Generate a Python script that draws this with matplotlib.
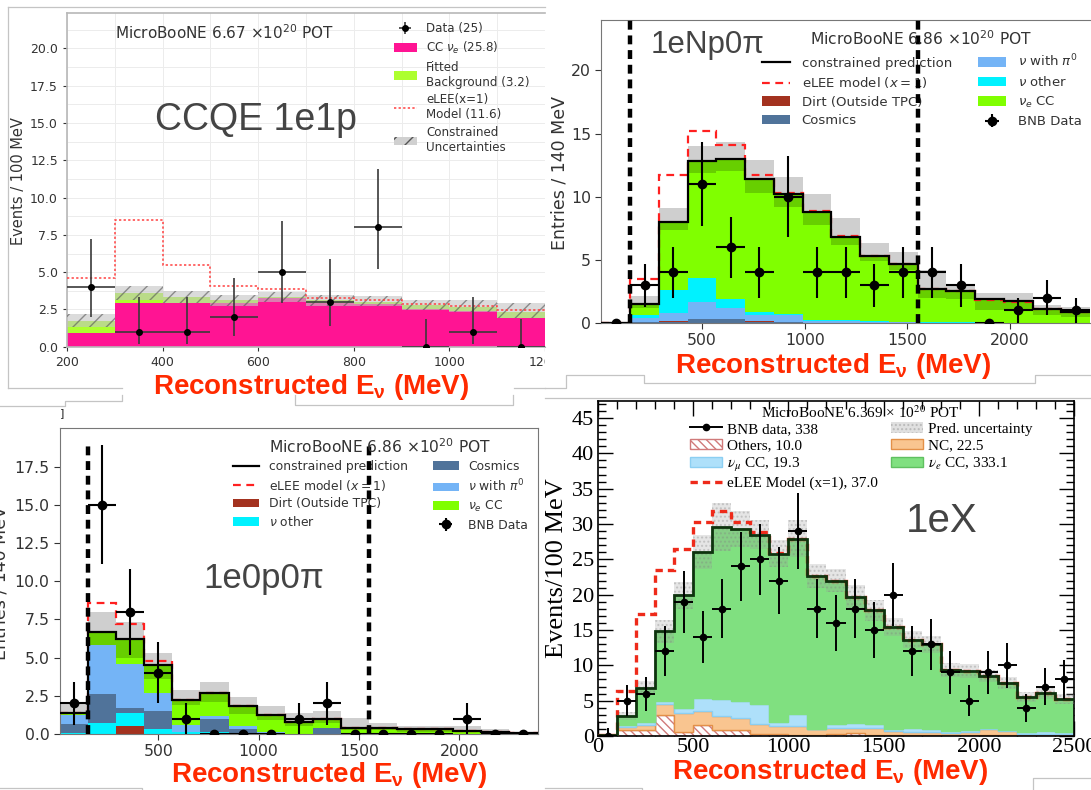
import numpy as np
import matplotlib
matplotlib.use('Agg')
import matplotlib.pyplot as plt
from matplotlib.patches import Patch, Rectangle
from matplotlib.lines import Line2D
from matplotlib.ticker import MultipleLocator
from matplotlib.font_manager import FontProperties

W, H = 1091, 790
plt.rcParams['mathtext.bf'] = 'Liberation Sans:bold'
plt.rcParams['mathtext.rm'] = 'Liberation Sans'

# ---------------- CCQE 1e1p ----------------
edges1 = np.arange(200, 1201, 100)
ccnue1 = [0.9, 2.9, 2.95, 2.95, 3.25, 2.9, 2.85, 2.55, 2.4, 1.95]
bkg1 = [0.85, 0.7, 0.35, 0.15, 0.1, 0.2, 0.15, 0.25, 0.25, 0.35]
unc_lo1 = [1.35, 3.15, 2.95, 2.75, 3.0, 2.75, 2.7, 2.45, 2.3, 1.95]
unc_hi1 = [2.2, 4.1, 3.75, 3.45, 3.7, 3.45, 3.4, 3.1, 3.15, 2.95]
elee1 = [4.6, 8.5, 5.45, 4.1, 3.9, 3.25, 3.1, 2.85, 2.75, 2.45]
data1 = [4, 1, 1, 2, 5, 3, 8, 0, 1, 0]
data1_lo = [2.0, 0.17, 0.17, 0.7, 2.9, 1.4, 5.2, 0, 0.17, 0]
data1_hi = [7.2, 3.3, 3.3, 4.6, 8.4, 5.9, 11.9, 1.85, 3.3, 1.85]

# ---------------- 1eNp0pi ----------------
edges2 = np.arange(10, 2391, 140)
cosmic2 = [0, 0.05, 0.1, 0.3, 0.3, 0.1, 0.05, 0.02, 0, 0, 0, 0, 0, 0, 0, 0, 0]
dirt2 = [0, 0, 0.02, 0.05, 0.05, 0.02, 0, 0, 0, 0, 0, 0, 0, 0, 0, 0, 0]
pi0_2 = [0, 0.35, 0.7, 1.35, 0.85, 0.55, 0.6, 0.13, 0.15, 0.1, 0.05, 0.03, 0.02, 0, 0, 0, 0]
other2 = [0, 0.25, 1.8, 1.9, 0.7, 0.2, 0.1, 0.05, 0.05, 0.05, 0.05, 0.05, 0.03, 0.02, 0.02, 0.01, 0.01]
nue2 = [0, 0.85, 5.4, 9.2, 11.1, 10.5, 9.45, 8.6, 6.65, 5.15, 4.6, 2.6, 2.45, 1.85, 1.7, 1.1, 0.9]
unc_lo2 = [0, 1.2, 7.35, 11.9, 12.0, 10.3, 9.2, 7.8, 6.2, 4.9, 4.2, 2.0, 1.9, 1.0, 1.0, 0.6, 0.5]
unc_hi2 = [0, 2.1, 9.1, 14.0, 14.3, 12.9, 11.6, 10.2, 8.3, 6.3, 5.6, 4.2, 3.0, 2.4, 2.35, 1.4, 1.3]
elee2 = [0, 3.5, 11.7, 15.2, 14.1, 11.75, 10.3, 8.85, 6.9, 5.3, 4.7, 2.7, 2.5, 1.85, 1.7, 1.1, 0.9]
data2 = [0, 3, 4, 11, 6, 4, 10, 4, 4, 3, 4, 4, 3, 0, 1, 2, 1]
err2 = [0, 1.7, 2.0, 3.3, 2.4, 2.0, 3.2, 2.0, 2.0, 1.7, 2.0, 2.0, 1.7, 0, 1.0, 1.4, 1.0]

# ---------------- 1e0p0pi ----------------
edges3 = np.arange(10, 2391, 140)
dirt3 = [0, 0, 0.5, 0, 0, 0, 0, 0, 0, 0, 0, 0, 0, 0, 0, 0, 0]
other3 = [0.05, 0.7, 0.85, 0.3, 0.15, 0.15, 0.05, 0.02, 0, 0, 0, 0, 0, 0, 0, 0, 0]
cosmic3 = [0.6, 1.9, 0.35, 1.2, 0, 0.85, 0.25, 0.05, 0, 0.4, 0, 0, 0, 0, 0, 0, 0]
pi0_3 = [0.6, 3.2, 2.9, 1.2, 0.45, 0.2, 0.2, 0.05, 0.02, 0.02, 0.02, 0, 0, 0, 0, 0, 0]
nue3 = [0.15, 0.9, 1.6, 1.8, 1.6, 1.5, 1.3, 1.13, 0.78, 0.53, 0.38, 0.4, 0.3, 0.3, 0.2, 0.1, 0.05]
unc_lo3 = [1.4, 5.8, 5.0, 3.6, 1.9, 2.1, 1.3, 0.9, 0.55, 0.7, 0.25, 0.25, 0.15, 0.15, 0.1, 0.05, 0.02]
unc_hi3 = [2.0, 8.0, 7.3, 5.3, 2.85, 3.4, 2.4, 1.8, 1.4, 1.5, 1.05, 0.7, 0.55, 0.55, 0.5, 0.3, 0.1]
elee3 = [1.4, 8.6, 7.2, 4.8, 2.2, 2.7, 1.8, 1.25, 0.8, 0.95, 0.4, 0.4, 0.3, 0.3, 0.2, 0.1, 0.05]
data3 = [2, 15, 8, 4, 1, 0, 0, 0, 1, 2, 0, 0, 0, 0, 1, 0, 0]
err3 = [1.4, 3.9, 2.8, 2.0, 1.0, 0, 0, 0, 1.0, 1.4, 0, 0, 0, 0, 1.0, 0, 0]

# ---------------- 1eX ----------------
edges4 = np.arange(0, 2501, 100)
others4 = [0, 0.9, 0.8, 3.0, 0.6, 1.5, 0.8, 0.8, 0.3, 0.3, 0.2, 0.2, 0.3, 0.4, 0.2, 0.2, 0.15, 0.15, 0.1, 0.1, 0.15, 0.2, 0.1, 0.1, 0.1]
nc4 = [0, 0.4, 0.8, 1.5, 2.7, 2.0, 2.0, 1.8, 1.35, 1.1, 1.2, 0.75, 0.9, 0.8, 1.0, 0.5, 0.35, 0.35, 0.3, 0.4, 0.85, 0.5, 0.2, 0.2, 0.2]
numu4 = [0, 0.3, 0.4, 0.4, 0.6, 1.9, 2.4, 2.4, 2.85, 0.6, 1.7, 0.05, 0.45, 0.7, 0.45, 0.25, 0.7, 0.5, 0.3, 0.35, 0.1, 0.1, 0.2, 0.4, 0.2]
nue4 = [0.1, 1.2, 4.8, 9.9, 16.0, 20.7, 24.4, 24.3, 24.0, 23.8, 24.8, 21.7, 20.35, 17.8, 16.15, 14.45, 12.4, 12.0, 8.6, 8.35, 7.4, 6.7, 5.0, 5.4, 4.7]
elee4 = [0, 3.6, 10.4, 8.7, 6.6, 4.2, 2.3, 1.0, 0.3, 0.1, 0, 0, 0, 0, 0, 0, 0, 0, 0, 0, 0, 0, 0, 0, 0]
unc4 = [0.1, 0.6, 1.0, 1.6, 1.9, 2.4, 3.4, 2.5, 2.0, 1.9, 2.6, 1.7, 1.6, 1.6, 1.5, 1.3, 1.2, 1.2, 1.0, 1.0, 0.9, 0.9, 0.7, 0.8, 0.7]
data4 = [0, 5, 6, 12, 19, 14, 18, 24, 25, 22, 29, 18, 16, 18, 15, 20, 12, 13, 9, 5, 9, 10, 4, 7, 8]
err4 = [1.1, 2.2, 2.4, 3.5, 4.4, 3.7, 4.2, 4.9, 5.0, 4.7, 5.4, 4.2, 4.0, 4.2, 3.9, 4.5, 3.5, 3.6, 3.0, 2.2, 3.0, 3.2, 2.0, 2.6, 2.8]

C_DIRT, C_COS, C_PI0, C_OTH, C_NUE = '#a3321f', '#50739a', '#74b4f6', '#00f2ff', '#80ff00'
GREYTXT = '#333333'
RED = '#ff2a00'


def rect(l, t, r, b):
    # pixel box -> figure fraction
    return [l / W, 1 - b / H, (r - l) / W, (b - t) / H]


def fx(x):
    return x / W


def fy(y):
    return 1 - y / H


def stack(ax, edges, comps, colors, **kw):
    base = np.zeros(len(edges) - 1)
    for vals, c in zip(comps, colors):
        top = base + np.asarray(vals, dtype=float)
        ax.stairs(top, edges, baseline=base, fill=True, color=c, lw=0, **kw)
        base = top
    return base


def centers(edges):
    return 0.5 * (edges[1:] + edges[:-1])


fig = plt.figure(figsize=(W / 100, H / 100), dpi=100)

# ---------------- panel 1 ----------------
ax1 = fig.add_axes(rect(67, 12.7, 545, 346.7))
ax1.set_xlim(200, 1200)
ax1.set_ylim(0, 22.4)
ax1.set_xticks(np.arange(200, 1201, 200))
ax1.set_yticks(np.arange(0, 20.1, 2.5))
ax1.xaxis.set_minor_locator(MultipleLocator(100))
ax1.yaxis.set_minor_locator(MultipleLocator(1.25))
ax1.grid(which='both', color='#ececec', lw=0.7)
ax1.set_axisbelow(True)
ax1.tick_params(labelsize=9, colors=GREYTXT, length=3, which='major')
ax1.tick_params(which='minor', length=0)
for s in ax1.spines.values():
    s.set_color('#b8b8b8')
    s.set_linewidth(1.2)
ax1.spines['right'].set_visible(False)

stack(ax1, edges1, [ccnue1, bkg1], ['#ff1493', '#adff2f'], zorder=2)
ax1.stairs(unc_hi1, edges1, baseline=unc_lo1, fill=True, facecolor='#c4c4c4', edgecolor='#555555',
           hatch='//', lw=0, alpha=0.6, zorder=3)
ax1.stairs(elee1, edges1, baseline=None, color='#ff4040', ls=(0, (1.5, 1.5)), lw=1.1, zorder=4)
c1 = centers(edges1)
d1 = np.array(data1, dtype=float)
yerr1 = [d1 - np.array(data1_lo), np.array(data1_hi) - d1]
h_data1 = ax1.errorbar(c1, d1, yerr=yerr1, xerr=50, fmt='o', color='k', ms=4, ecolor='#3a3a3a',
                       elinewidth=1.2, capsize=0, zorder=5)

h1 = [h_data1,
      Patch(facecolor='#ff1493'),
      Patch(facecolor='#adff2f'),
      Line2D([], [], color='#ff4040', ls=(0, (1.5, 1.5)), lw=1.1),
      Patch(facecolor='#d0d0d0', edgecolor='#555555', hatch='//', lw=0)]
l1 = ['Data (25)', r'CC $\nu_e$ (25.8)', 'Fitted\nBackground (3.2)', 'eLEE(x=1)\nModel (11.6)',
      'Constrained\nUncertainties']
ax1.legend(h1, l1, loc='upper left', bbox_to_anchor=(fx(394), fy(22)), bbox_transform=fig.transFigure,
           frameon=False, fontsize=8.6, handlelength=1.9, handletextpad=0.8, labelspacing=0.4,
           borderpad=0, borderaxespad=0, labelcolor=GREYTXT)
fig.text(fx(115), fy(33), 'MicroBooNE 6.67 ×10$^{20}$ POT', fontsize=11, color=GREYTXT, va='center')
fig.text(fx(155), fy(130), 'CCQE 1e1p', family='Liberation Sans', fontsize=27, color='#444444')
fig.text(fx(19), fy(181), 'Events / 100 MeV', rotation=90, fontsize=10.5, color=GREYTXT,
         ha='center', va='center')

# ---------------- panel 2 ----------------
ax2 = fig.add_axes(rect(601.4, 20, 1090, 323))
ax2.set_xlim(10, 2390)
ax2.set_ylim(0, 24)
ax2.set_xticks([500, 1000, 1500, 2000])
ax2.set_yticks([0, 5, 10, 15, 20])
ax2.tick_params(labelsize=11.3, colors=GREYTXT, length=4)
for s in ax2.spines.values():
    s.set_color('#777777')
ax2.spines['right'].set_visible(False)

top2 = stack(ax2, edges2, [cosmic2, dirt2, pi0_2, other2, nue2], [C_COS, C_DIRT, C_PI0, C_OTH, C_NUE], zorder=2)
ax2.stairs(unc_hi2, edges2, baseline=unc_lo2, fill=True, color='k', alpha=0.19, lw=0, zorder=3)
ax2.stairs(elee2, edges2, baseline=None, color='#ff2020', ls=(0, (3.5, 2.5)), lw=1.6, zorder=4)
ax2.stairs(top2, edges2, baseline=None, color='k', lw=1.6, zorder=5)
for xv in (150, 1550):
    ax2.axvline(xv, color='k', ls=(0, (2, 1.3)), lw=3.2, zorder=6)
h_data2 = ax2.errorbar(centers(edges2), data2, yerr=err2, xerr=70, fmt='o', color='k', ms=6,
                       elinewidth=1.5, capsize=0, zorder=7)

h2 = [Line2D([], [], color='k', lw=1.6),
      Line2D([], [], color='#ff2020', ls=(0, (3.5, 2.5)), lw=1.6),
      Patch(facecolor=C_DIRT), Patch(facecolor=C_COS),
      Patch(facecolor=C_PI0), Patch(facecolor=C_OTH), Patch(facecolor=C_NUE), h_data2]
l2 = ['constrained prediction', r'eLEE model ($x = 1$)', 'Dirt (Outside TPC)', 'Cosmics',
      r'$\nu$ with $\pi^0$', r'$\nu$ other', r'$\nu_e$ CC', 'BNB Data']
ax2.legend(h2, l2, ncol=2, loc='upper left', bbox_to_anchor=(fx(762), fy(53)), bbox_transform=fig.transFigure,
           frameon=False, fontsize=9.5, handlelength=2.1, handletextpad=0.9, columnspacing=2.0,
           labelspacing=0.42, borderpad=0, borderaxespad=0, labelcolor=GREYTXT)
fig.text(fx(810), fy(39), 'MicroBooNE 6.86 ×10$^{20}$ POT', fontsize=11.2, color=GREYTXT, va='center')
fig.text(fx(651), fy(53), '1eNp0π', family='Liberation Sans', fontsize=22.5, color='#444444')
fig.text(fx(559), fy(173), 'Entries / 140 MeV', rotation=90, fontsize=12.5, color=GREYTXT,
         ha='center', va='center')

# ---------------- panel 3 ----------------
ax3 = fig.add_axes(rect(60, 428.3, 537.5, 734))
ax3.set_xlim(10, 2390)
ax3.set_ylim(0, 20)
ax3.set_xticks([500, 1000, 1500, 2000])
ax3.set_yticks(np.arange(0, 17.6, 2.5))
ax3.tick_params(labelsize=11.3, colors=GREYTXT, length=4)
for s in ax3.spines.values():
    s.set_color('#777777')

top3 = stack(ax3, edges3, [dirt3, other3, cosmic3, pi0_3, nue3], [C_DIRT, C_OTH, C_COS, C_PI0, C_NUE], zorder=2)
ax3.stairs(unc_hi3, edges3, baseline=unc_lo3, fill=True, color='k', alpha=0.19, lw=0, zorder=3)
ax3.stairs(elee3, edges3, baseline=None, color='#ff2020', ls=(0, (3.5, 2.5)), lw=1.6, zorder=4)
ax3.stairs(top3, edges3, baseline=None, color='k', lw=1.6, zorder=5)
for xv in (150, 1550):
    ax3.vlines(xv, 0, 19.2, color='k', ls=(0, (2, 1.3)), lw=3.2, zorder=6)
h_data3 = ax3.errorbar(centers(edges3), data3, yerr=err3, xerr=70, fmt='o', color='k', ms=6,
                       elinewidth=1.5, capsize=0, zorder=7)

h3 = [Line2D([], [], color='k', lw=1.6),
      Line2D([], [], color='#ff2020', ls=(0, (3.5, 2.5)), lw=1.6),
      Patch(facecolor=C_DIRT), Patch(facecolor=C_OTH),
      Patch(facecolor=C_COS), Patch(facecolor=C_PI0), Patch(facecolor=C_NUE), h_data3]
l3 = ['constrained prediction', r'eLEE model ($x = 1$)', 'Dirt (Outside TPC)', r'$\nu$ other',
      'Cosmics', r'$\nu$ with $\pi^0$', r'$\nu_e$ CC', 'BNB Data']
ax3.legend(h3, l3, ncol=2, loc='upper left', bbox_to_anchor=(fx(233), fy(460)), bbox_transform=fig.transFigure,
           frameon=False, fontsize=8.9, handlelength=2.1, handletextpad=0.8, columnspacing=2.0,
           labelspacing=0.38, borderpad=0, borderaxespad=0, labelcolor=GREYTXT)
fig.text(fx(269), fy(447), 'MicroBooNE 6.86 ×10$^{20}$ POT', fontsize=11.2, color=GREYTXT, va='center')
fig.text(fx(203), fy(588), '1e0p0π', family='Liberation Sans', fontsize=25, color='#444444')
fig.text(fx(1), fy(583), 'Entries / 140 MeV', rotation=90, fontsize=12.5, color=GREYTXT,
         ha='center', va='center')
fig.text(fx(60), fy(413), ']', fontsize=8, color='#222222', va='center')

# ---------------- panel 4 ----------------
serif = 'Liberation Serif'
ax4 = fig.add_axes(rect(598, 401, 1074, 736))
ax4.set_xlim(0, 2500)
ax4.set_ylim(0, 47.4)
ax4.set_xticks(np.arange(0, 2501, 500))
ax4.set_yticks(np.arange(0, 46, 5))
ax4.xaxis.set_minor_locator(MultipleLocator(100))
ax4.yaxis.set_minor_locator(MultipleLocator(1))
ax4.tick_params(which='both', direction='in', top=True, right=True, width=1.0, colors='k')
ax4.tick_params(which='major', length=11, labelsize=16, labelfontfamily=serif)
ax4.tick_params(axis='x', which='major', pad=1.5)
ax4.tick_params(axis='y', which='major', pad=3)
ax4.tick_params(which='minor', length=5.5)
for s in ax4.spines.values():
    s.set_linewidth(1.2)

c4 = centers(edges4)
base = np.zeros(len(c4))
styles4 = [(others4, 'white', '#d07a7a', '\\\\\\\\'),
           (nc4, '#f9c590', '#e39048', None),
           (numu4, '#aee0fa', '#8ccff2', None),
           (nue4, '#80e080', '#80e080', None)]
for vals, fc, ec, hat in styles4:
    top = base + np.asarray(vals)
    ax4.stairs(top, edges4, baseline=base, fill=True, facecolor=fc, edgecolor=ec, hatch=hat, lw=1.0, zorder=2)
    base = top
top4 = base
ax4.stairs(top4 + np.array(unc4), edges4, baseline=top4 - np.array(unc4), fill=True,
           facecolor=(0.6, 0.6, 0.6, 0.25), edgecolor=(0.5, 0.5, 0.5, 0.3), hatch='....', lw=0, zorder=3)
ax4.stairs(top4 + np.array(elee4), edges4, baseline=None, color='#ee2a1a', ls=(0, (2.2, 1.5)), lw=2.4, zorder=4)
ax4.stairs(top4, edges4, baseline=None, color='#0e330e', lw=2.0, zorder=5)
ax4.errorbar(c4, data4, yerr=err4, xerr=50, fmt='o', color='k', ms=4.5, elinewidth=1.4, capsize=0, zorder=6)

h4 = [Line2D([], [], color='k', marker='o', ms=4.5, lw=1.4),
      Patch(facecolor='white', edgecolor='#d07a7a', hatch='\\\\\\\\'),
      Patch(facecolor='#aee0fa', edgecolor='#8ccff2'),
      Line2D([], [], color='#ee2a1a', ls=(0, (2.2, 1.5)), lw=2.4),
      Patch(facecolor=(0.6, 0.6, 0.6, 0.3), edgecolor=(0.5, 0.5, 0.5, 0.35), hatch='....', lw=0),
      Patch(facecolor='#f9c590', edgecolor='#e39048'),
      Patch(facecolor='#80e080', edgecolor='#60c060')]
l4 = ['BNB data, 338', 'Others, 10.0', r'$\nu_\mu$ CC, 19.3', 'eLEE Model (x=1), 37.0',
      'Pred. uncertainty', 'NC, 22.5', r'$\nu_e$ CC, 333.1']
prop4 = FontProperties(family=serif, size=11, math_fontfamily='stix')
ax4.legend(h4, l4, ncol=2, loc='upper left', bbox_to_anchor=(fx(690), fy(422)), bbox_transform=fig.transFigure,
           frameon=False, prop=prop4, handlelength=2.1, handletextpad=0.3, columnspacing=0.9,
           labelspacing=0.2, borderpad=0, borderaxespad=0)
fig.text(fx(860), fy(413), 'MicroBooNE 6.369 × 10$^{20}$ POT', family=serif, fontsize=11,
         math_fontfamily='stix', ha='center', va='center')
fig.text(fx(906), fy(532), '1eX', family='Liberation Sans', fontsize=29, color='#444444')
fig.text(fx(557), fy(568), 'Events/100 MeV', rotation=90, family=serif, fontsize=19, ha='center', va='center')

# ---------------- red axis titles ----------------
xtitle = r'Reconstructed E$_\mathbf{\nu}$ (MeV)'
for xc, yb in [(311, 394), (833, 373), (329, 782), (830, 779)]:
    fig.text(fx(xc), fy(yb), xtitle, family='Liberation Sans', weight='bold', fontsize=20, color=RED,
             ha='center', va='baseline', math_fontfamily='custom', zorder=8)

# cut of the 1200 label at the edge of the first picture
fig.add_artist(Rectangle((fx(545), fy(372)), 55 / W, 24 / H, transform=fig.transFigure,
                         facecolor='white', edgecolor='none', zorder=6))

# thin frames of the pasted screenshots
frame = [[(8, 7), (545, 7)], [(8, 7), (8, 388)], [(8, 388), (122, 388)], [(514, 388), (545, 388)],
         [(545, 388), (566, 388), (566, 375), (644, 375), (644, 383), (1035, 383), (1035, 375), (1091, 375)],
         [(0, 406), (65, 406), (65, 401), (122, 401), (122, 395)],
         [(295, 395), (295, 405), (513, 405), (513, 395)],
         [(0, 788), (142, 788), (142, 790)],
         [(545, 398), (1091, 398)],
         [(545, 788), (642, 788), (642, 790)], [(1033, 790), (1033, 778), (1091, 778)]]
for pts in frame:
    xs = [fx(p[0]) for p in pts]
    ys = [fy(p[1]) for p in pts]
    fig.add_artist(Line2D(xs, ys, color='#c4c4c4', lw=0.9, transform=fig.transFigure, zorder=1))

fig.savefig('out.png', dpi=100)
